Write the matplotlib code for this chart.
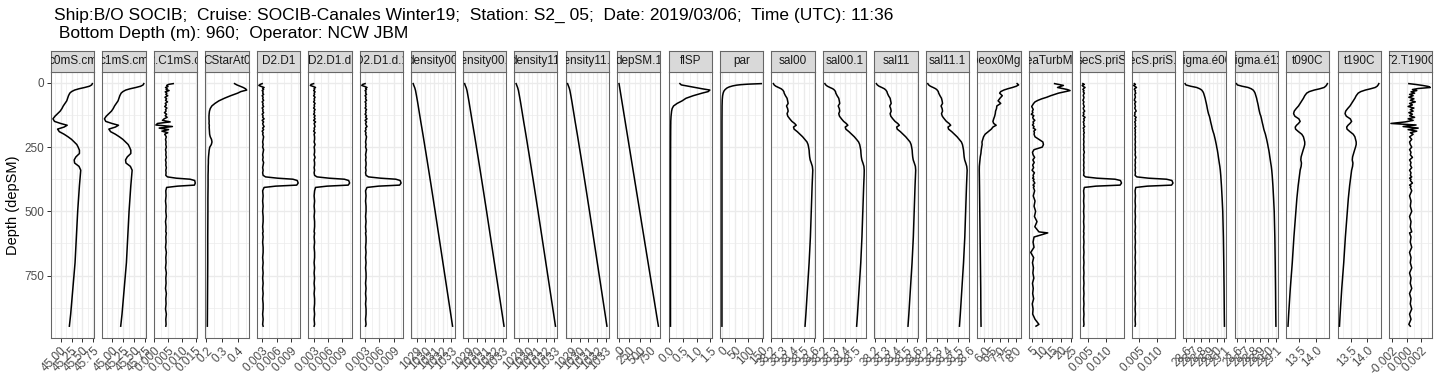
import matplotlib
matplotlib.use("Agg")
import matplotlib.pyplot as plt
from matplotlib.ticker import NullFormatter

plt.rcParams['font.family'] = ['Liberation Sans', 'DejaVu Sans']

title_line1 = "Ship:B/O SOCIB;  Cruise: SOCIB-Canales Winter19;  Station: S2_ 05;  Date: 2019/03/06;  Time (UTC): 11:36"
title_line2 = " Bottom Depth (m): 960;  Operator: NCW JBM"
y_label = "Depth (depSM)"
y_ticks = [0, 250, 500, 750]

# ---------------- depth grids ----------------
depth_g = [3, 6, 10, 14, 18, 22, 26, 30, 35, 40,
           45, 50, 56, 62, 68, 74, 80, 86, 92, 98,
           104, 110, 116, 122, 128, 134, 140, 146, 152, 158,
           164, 170, 176, 182, 188, 194, 200, 210, 220, 230,
           240, 250, 260, 270, 280, 290, 300, 310, 320, 330,
           340, 350, 360, 366, 371, 375, 380, 390, 398, 402,
           407, 420, 440, 460, 480, 500, 520, 540, 560, 580,
           584, 600, 620, 640, 660, 680, 700, 720, 740, 760,
           780, 800, 820, 840, 860, 880, 900, 920, 940, 947]

depth_s = [3, 8, 13, 18, 23, 28, 34, 40, 50, 60, 70, 80, 90, 100, 110, 120,
           130, 140, 150, 158, 165, 172, 180, 190, 200, 210, 220, 230, 240,
           250, 262, 275, 288, 300, 312, 325, 340, 360, 400, 450, 500, 600,
           700, 800, 900, 947]

depth_d = [3, 10, 20, 30, 50, 75, 100, 150, 200, 300, 400, 500, 600, 700, 800, 900, 947]

depth_p = [3, 4, 5, 7, 9, 12, 16, 20, 26, 32, 40, 50, 65, 90, 150, 947]

# ---------------- series ----------------
c0mS_cm = [45.725, 45.71, 45.66, 45.55, 45.42, 45.32, 45.25, 45.21, 45.18, 45.16,
           45.14, 45.10, 45.06, 45.03, 44.99, 44.93, 44.87, 44.825, 44.86, 45.00,
           45.15, 45.08, 44.93, 44.97, 45.08, 45.17, 45.25, 45.31, 45.37, 45.40,
           45.43, 45.43, 45.35, 45.31, 45.32, 45.42, 45.46, 45.45, 45.43, 45.41,
           45.39, 45.36, 45.33, 45.28, 45.23, 45.20]

c1mS_cm = [45.72, 45.705, 45.65, 45.54, 45.41, 45.31, 45.245, 45.205, 45.175, 45.155,
           45.135, 45.095, 45.055, 45.025, 44.985, 44.925, 44.865, 44.825, 44.855, 44.995,
           45.145, 45.075, 44.925, 44.965, 45.075, 45.165, 45.245, 45.305, 45.365, 45.395,
           45.425, 45.425, 45.345, 45.305, 45.315, 45.415, 45.455, 45.445, 45.425, 45.405,
           45.385, 45.355, 45.325, 45.275, 45.225, 45.195]

C2_C1mS_cm = [0.0069, 0.0052, 0.0045, 0.0050, 0.0041, 0.0047, 0.0043, 0.0054, 0.0040, 0.0046,
              0.0042, 0.0049, 0.0039, 0.0045, 0.0041, 0.0048, 0.0040, 0.0044, 0.0038, 0.0046,
              0.0041, 0.0043, 0.0037, 0.0045, 0.0040, 0.0047, 0.0036, 0.0030, 0.0058, 0.0012,
              0.0006, 0.0066, 0.0018, 0.0052, 0.0028, 0.0049, 0.0038, 0.0044, 0.0041, 0.0043,
              0.0042, 0.0044, 0.0041, 0.0043, 0.0042, 0.0044, 0.0041, 0.0043, 0.0042, 0.0044,
              0.0042, 0.0043, 0.0042, 0.0048, 0.0080, 0.0130, 0.0147, 0.0149, 0.0146, 0.0085,
              0.0045, 0.0042, 0.0043, 0.0041, 0.0043, 0.0042, 0.0044, 0.0041, 0.0043, 0.0042,
              0.0044, 0.0042, 0.0043, 0.0041, 0.0044, 0.0042, 0.0043, 0.0041, 0.0044, 0.0042,
              0.0043, 0.0041, 0.0044, 0.0042, 0.0043, 0.0041, 0.0044, 0.0042, 0.0043, 0.0042]

CStarAt0 = [0.380, 0.395, 0.415, 0.435, 0.450, 0.4575, 0.420, 0.400, 0.355, 0.315,
            0.280, 0.255, 0.235, 0.225, 0.220, 0.218, 0.217, 0.217, 0.218, 0.217,
            0.219, 0.218, 0.219, 0.220, 0.221, 0.225, 0.233, 0.236, 0.232, 0.222,
            0.218, 0.216, 0.214, 0.213, 0.213, 0.212, 0.212, 0.211, 0.211, 0.210,
            0.210, 0.209, 0.209, 0.208, 0.207, 0.2065]

D2_D1 = [0.0030, 0.0026, 0.0023, 0.0028, 0.0034, 0.0031, 0.0033, 0.0030, 0.0032, 0.0031,
         0.0033, 0.0030, 0.0032, 0.0031, 0.0033, 0.0030, 0.0032, 0.0031, 0.0033, 0.0030,
         0.0032, 0.0031, 0.0033, 0.0030, 0.0032, 0.0031, 0.0034, 0.0030, 0.0033, 0.0031,
         0.0032, 0.0034, 0.0031, 0.0033, 0.0030, 0.0032, 0.0031, 0.0033, 0.0032, 0.0031,
         0.0032, 0.0031, 0.0033, 0.0032, 0.0031, 0.0032, 0.0031, 0.0033, 0.0032, 0.0031,
         0.0032, 0.0031, 0.0032, 0.0037, 0.0062, 0.0094, 0.0103, 0.0105, 0.0102, 0.0058,
         0.0034, 0.0031, 0.0032, 0.0031, 0.0032, 0.0031, 0.0032, 0.0032, 0.0031, 0.0032,
         0.0031, 0.0032, 0.0031, 0.0032, 0.0032, 0.0031, 0.0032, 0.0031, 0.0032, 0.0031,
         0.0032, 0.0031, 0.0032, 0.0031, 0.0032, 0.0032, 0.0031, 0.0032, 0.0031, 0.0032]

D2_D1_d = [0.0030, 0.0025, 0.0023, 0.0029, 0.0034, 0.0031, 0.0032, 0.0030, 0.0033, 0.0031,
           0.0032, 0.0030, 0.0033, 0.0031, 0.0032, 0.0030, 0.0033, 0.0031, 0.0032, 0.0030,
           0.0033, 0.0031, 0.0032, 0.0030, 0.0033, 0.0031, 0.0033, 0.0030, 0.0034, 0.0031,
           0.0032, 0.0033, 0.0031, 0.0032, 0.0030, 0.0033, 0.0031, 0.0032, 0.0032, 0.0031,
           0.0033, 0.0031, 0.0032, 0.0032, 0.0031, 0.0033, 0.0031, 0.0032, 0.0032, 0.0031,
           0.0032, 0.0031, 0.0032, 0.0037, 0.0062, 0.0094, 0.0103, 0.0105, 0.0102, 0.0058,
           0.0034, 0.0032, 0.0031, 0.0032, 0.0031, 0.0032, 0.0031, 0.0032, 0.0032, 0.0031,
           0.0032, 0.0031, 0.0032, 0.0031, 0.0032, 0.0032, 0.0031, 0.0032, 0.0031, 0.0032,
           0.0031, 0.0032, 0.0031, 0.0032, 0.0032, 0.0031, 0.0032, 0.0031, 0.0032, 0.0031]

D2_D1_d_1 = [0.0030, 0.0025, 0.0023, 0.0029, 0.0034, 0.0031, 0.0033, 0.0030, 0.0032, 0.0031,
             0.0033, 0.0030, 0.0032, 0.0031, 0.0033, 0.0030, 0.0032, 0.0031, 0.0032, 0.0030,
             0.0033, 0.0031, 0.0032, 0.0030, 0.0033, 0.0031, 0.0034, 0.0030, 0.0033, 0.0031,
             0.0032, 0.0034, 0.0031, 0.0032, 0.0030, 0.0032, 0.0031, 0.0033, 0.0032, 0.0031,
             0.0032, 0.0031, 0.0033, 0.0032, 0.0031, 0.0032, 0.0031, 0.0032, 0.0032, 0.0031,
             0.0032, 0.0031, 0.0032, 0.0037, 0.0062, 0.0094, 0.0103, 0.0105, 0.0102, 0.0058,
             0.0034, 0.0031, 0.0032, 0.0031, 0.0032, 0.0032, 0.0031, 0.0032, 0.0031, 0.0032,
             0.0031, 0.0032, 0.0032, 0.0031, 0.0032, 0.0031, 0.0032, 0.0031, 0.0032, 0.0032,
             0.0031, 0.0032, 0.0031, 0.0032, 0.0031, 0.0032, 0.0032, 0.0031, 0.0032, 0.0031]

density00 = [1028.61, 1028.68, 1028.80, 1028.88, 1028.99, 1029.12, 1029.24, 1029.48, 1029.73,
             1030.21, 1030.68, 1031.14, 1031.59, 1032.04, 1032.49, 1032.94, 1033.15]
density00_1 = [1028.61, 1028.68, 1028.80, 1028.88, 1028.99, 1029.12, 1029.24, 1029.48, 1029.73,
               1030.21, 1030.68, 1031.14, 1031.59, 1032.04, 1032.49, 1032.94, 1033.15]
density11 = [1028.61, 1028.69, 1028.80, 1028.88, 1028.99, 1029.12, 1029.24, 1029.48, 1029.73,
             1030.21, 1030.68, 1031.14, 1031.59, 1032.04, 1032.49, 1032.94, 1033.15]
density11_1 = [1028.61, 1028.69, 1028.80, 1028.88, 1028.99, 1029.12, 1029.24, 1029.48, 1029.73,
               1030.21, 1030.68, 1031.14, 1031.59, 1032.04, 1032.49, 1032.94, 1033.15]

depSM_1 = [3, 10, 20, 30, 50, 75, 100, 150, 200, 300, 400, 500, 600, 700, 800, 900, 947]

flSP = [0.40, 0.45, 0.70, 0.95, 1.20, 1.48, 1.42, 1.20, 0.88, 0.62,
        0.48, 0.30, 0.17, 0.12, 0.10, 0.09, 0.08, 0.075, 0.07, 0.07,
        0.068, 0.068, 0.067, 0.066, 0.066, 0.065, 0.065, 0.064, 0.064, 0.064,
        0.063, 0.063, 0.063, 0.062, 0.062, 0.062, 0.062, 0.061, 0.061, 0.061,
        0.060, 0.060, 0.060, 0.060, 0.060, 0.060]

par = [149, 125, 100, 72, 55, 40, 27, 19, 12, 7.5, 4.5, 2.5, 1.2, 0.4, 0.05, 0.0]

sal00 = [38.218, 38.225, 38.24, 38.265, 38.29, 38.305, 38.315, 38.318, 38.33, 38.345,
         38.35, 38.355, 38.34, 38.35, 38.355, 38.345, 38.352, 38.37, 38.39, 38.415,
         38.43, 38.405, 38.41, 38.44, 38.465, 38.49, 38.51, 38.53, 38.54, 38.545,
         38.55, 38.552, 38.555, 38.56, 38.57, 38.58, 38.584, 38.582, 38.578, 38.574,
         38.57, 38.562, 38.55, 38.535, 38.52, 38.512]
sal00_1 = [38.215, 38.223, 38.238, 38.262, 38.288, 38.303, 38.313, 38.316, 38.328, 38.343,
           38.348, 38.352, 38.338, 38.348, 38.352, 38.343, 38.35, 38.368, 38.388, 38.412,
           38.427, 38.403, 38.408, 38.437, 38.462, 38.487, 38.507, 38.526, 38.536, 38.541,
           38.546, 38.548, 38.551, 38.556, 38.566, 38.575, 38.578, 38.577, 38.573, 38.569,
           38.565, 38.557, 38.546, 38.531, 38.516, 38.508]
sal11 = [38.217, 38.226, 38.242, 38.268, 38.292, 38.306, 38.316, 38.32, 38.331, 38.346,
         38.351, 38.356, 38.342, 38.351, 38.356, 38.346, 38.353, 38.371, 38.392, 38.417,
         38.432, 38.407, 38.412, 38.442, 38.467, 38.492, 38.512, 38.532, 38.542, 38.547,
         38.552, 38.554, 38.557, 38.562, 38.572, 38.582, 38.585, 38.583, 38.579, 38.575,
         38.571, 38.563, 38.551, 38.536, 38.521, 38.513]
sal11_1 = [38.216, 38.224, 38.240, 38.266, 38.290, 38.304, 38.314, 38.318, 38.330, 38.344,
           38.350, 38.354, 38.340, 38.350, 38.354, 38.344, 38.352, 38.370, 38.390, 38.415,
           38.430, 38.405, 38.410, 38.440, 38.465, 38.490, 38.510, 38.530, 38.540, 38.545,
           38.550, 38.553, 38.556, 38.561, 38.571, 38.580, 38.584, 38.582, 38.578, 38.574,
           38.570, 38.562, 38.550, 38.535, 38.520, 38.512]

sbeox0Mg_L = [8.10, 8.195, 8.05, 7.80, 7.50, 7.25, 7.05, 6.98, 7.15, 7.00,
              6.88, 7.05, 6.80, 6.78, 6.72, 6.70, 6.66, 6.60, 6.55, 6.60,
              6.76, 6.55, 6.45, 6.25, 6.05, 5.95, 5.90, 5.85, 5.86, 5.83,
              5.80, 5.78, 5.74, 5.72, 5.70, 5.68, 5.675, 5.68, 5.69, 5.70,
              5.71, 5.73, 5.75, 5.77, 5.78, 5.79]

seaTurbMtr = [16.5, 18.5, 21.0, 19.5, 18.0, 20.5, 23.0, 24.4, 21.5, 18.5,
              16.5, 14.5, 12.5, 10.0, 8.0, 6.5, 5.8, 5.3, 4.8, 5.2,
              5.6, 5.1, 5.4, 4.6, 5.9, 5.3, 5.6, 6.4, 5.5, 5.8,
              5.2, 6.0, 5.6, 6.8, 5.9, 6.2, 6.0, 6.5, 8.5, 10.5,
              10.8, 10.2, 6.0, 5.2, 5.5, 6.3, 5.4, 6.1, 5.3, 5.8,
              5.0, 6.2, 5.5, 5.8, 5.3, 6.0, 5.6, 6.4, 5.5, 6.1,
              5.7, 6.3, 5.6, 6.5, 6.0, 6.8, 6.2, 7.5, 6.4, 8.5,
              13.0, 6.0, 5.5, 6.0, 4.3, 5.8, 5.2, 5.7, 5.4, 5.9,
              5.2, 5.6, 5.3, 5.8, 5.1, 5.5, 5.3, 6.5, 8.5, 7.0]

secS_priS = [0.0036, 0.0040, 0.0034, 0.0037, 0.0042, 0.0038, 0.0036, 0.0039, 0.0037, 0.0040,
             0.0038, 0.0037, 0.0039, 0.0038, 0.0036, 0.0039, 0.0037, 0.0038, 0.0040, 0.0037,
             0.0038, 0.0041, 0.0037, 0.0039, 0.0036, 0.0042, 0.0038, 0.0040, 0.0037, 0.0039,
             0.0038, 0.0041, 0.0037, 0.0039, 0.0038, 0.0040, 0.0038, 0.0039, 0.0038, 0.0039,
             0.0038, 0.0039, 0.0038, 0.0040, 0.0038, 0.0039, 0.0038, 0.0039, 0.0038, 0.0039,
             0.0038, 0.0039, 0.0038, 0.0043, 0.0075, 0.0125, 0.0140, 0.0143, 0.0139, 0.0072,
             0.0040, 0.0038, 0.0039, 0.0038, 0.0039, 0.0038, 0.0039, 0.0038, 0.0039, 0.0038,
             0.0039, 0.0038, 0.0039, 0.0038, 0.0039, 0.0038, 0.0039, 0.0038, 0.0039, 0.0038,
             0.0039, 0.0038, 0.0039, 0.0038, 0.0039, 0.0038, 0.0039, 0.0038, 0.0039, 0.0038]

secS_priS_1 = [0.0036, 0.0039, 0.0034, 0.0038, 0.0042, 0.0037, 0.0036, 0.0039, 0.0038, 0.0040,
               0.0037, 0.0038, 0.0039, 0.0037, 0.0036, 0.0040, 0.0037, 0.0038, 0.0039, 0.0037,
               0.0039, 0.0041, 0.0037, 0.0038, 0.0036, 0.0041, 0.0038, 0.0040, 0.0037, 0.0039,
               0.0038, 0.0040, 0.0037, 0.0039, 0.0038, 0.0039, 0.0038, 0.0039, 0.0038, 0.0039,
               0.0038, 0.0039, 0.0038, 0.0039, 0.0038, 0.0040, 0.0038, 0.0039, 0.0038, 0.0039,
               0.0038, 0.0039, 0.0038, 0.0043, 0.0075, 0.0125, 0.0140, 0.0143, 0.0139, 0.0072,
               0.0040, 0.0038, 0.0039, 0.0038, 0.0039, 0.0038, 0.0039, 0.0038, 0.0039, 0.0038,
               0.0039, 0.0038, 0.0039, 0.0038, 0.0039, 0.0038, 0.0039, 0.0038, 0.0039, 0.0038,
               0.0039, 0.0038, 0.0039, 0.0038, 0.0039, 0.0038, 0.0039, 0.0038, 0.0039, 0.0038]

sigma_e00 = [28.59, 28.60, 28.66, 28.74, 28.78, 28.805, 28.82, 28.83, 28.84, 28.85,
             28.857, 28.865, 28.872, 28.878, 28.885, 28.893, 28.905, 28.913, 28.92, 28.926,
             28.932, 28.937, 28.943, 28.953, 28.964, 28.972, 28.98, 28.987, 28.994, 29.0,
             29.008, 29.015, 29.021, 29.027, 29.033, 29.04, 29.046, 29.052, 29.061, 29.07,
             29.078, 29.086, 29.091, 29.095, 29.098, 29.10]
sigma_e11 = [28.59, 28.60, 28.66, 28.74, 28.78, 28.805, 28.82, 28.83, 28.84, 28.85,
             28.857, 28.865, 28.872, 28.878, 28.885, 28.893, 28.905, 28.913, 28.92, 28.926,
             28.932, 28.937, 28.943, 28.953, 28.964, 28.972, 28.98, 28.987, 28.994, 29.0,
             29.008, 29.015, 29.021, 29.027, 29.033, 29.04, 29.046, 29.052, 29.061, 29.07,
             29.078, 29.086, 29.091, 29.095, 29.098, 29.10]

t090C = [14.35, 14.33, 14.30, 14.25, 14.12, 13.95, 13.80, 13.72, 13.66, 13.62,
         13.57, 13.52, 13.47, 13.40, 13.34, 13.32, 13.36, 13.48, 13.52, 13.47,
         13.41, 13.37, 13.38, 13.47, 13.57, 13.62, 13.64, 13.66, 13.66, 13.64,
         13.61, 13.58, 13.55, 13.54, 13.56, 13.55, 13.52, 13.50, 13.46, 13.42,
         13.39, 13.33, 13.28, 13.22, 13.17, 13.15]
t190C = [14.35, 14.33, 14.30, 14.24, 14.10, 13.94, 13.80, 13.72, 13.66, 13.62,
         13.57, 13.52, 13.47, 13.40, 13.34, 13.32, 13.36, 13.48, 13.52, 13.47,
         13.41, 13.37, 13.38, 13.47, 13.57, 13.62, 13.64, 13.66, 13.66, 13.64,
         13.61, 13.58, 13.55, 13.54, 13.56, 13.55, 13.52, 13.50, 13.46, 13.42,
         13.39, 13.33, 13.28, 13.22, 13.17, 13.15]

T2_T190C = [0.0003, 0.0012, 0.0022, 0.0030, 0.00328, 0.0016, 0.0008, 0.0014, 0.0006, 0.0011,
            0.0004, 0.0009, 0.0003, 0.0010, 0.0005, 0.0012, 0.0004, 0.0008, 0.0002, 0.0010,
            0.0005, 0.0009, 0.0003, 0.0008, 0.0004, 0.0011, 0.0002, 0.0009, -0.0002, -0.00219,
            0.0013, -0.0005, 0.0016, 0.0002, 0.0014, 0.0005, 0.0009, 0.0004, 0.0007, 0.0004,
            0.0005, 0.0007, 0.0004, 0.0006, 0.0005, 0.0008, 0.0004, 0.0006, 0.0005, 0.0007,
            0.0004, 0.0006, 0.0005, 0.0007, 0.0004, 0.0006, 0.0005, 0.0008, 0.0004, 0.0006,
            0.0005, 0.0007, 0.0004, 0.0006, 0.0005, 0.0007, 0.0004, 0.0006, 0.0005, 0.0007,
            0.0004, 0.0006, 0.0005, 0.0007, 0.0004, 0.0006, 0.0005, 0.0007, 0.0004, 0.0006,
            0.0005, 0.0007, 0.0004, 0.0006, 0.0005, 0.0007, 0.0004, 0.0006, 0.0003, 0.0005]

# ---------------- tick labels per panel ----------------
ticks_cond = ["45.00", "45.25", "45.50", "45.75"]
ticks_c2c1 = ["0.000", "0.005", "0.010", "0.015"]
ticks_cstar = ["0.2", "0.3", "0.4"]
ticks_d2d1 = ["0.003", "0.006", "0.009"]
ticks_dens = ["1029", "1030", "1031", "1032", "1033"]
ticks_dep = ["0", "250", "500", "750"]
ticks_fl = ["0.0", "0.5", "1.0", "1.5"]
ticks_par = ["0", "50", "100", "150"]
ticks_sal = ["38.2", "38.3", "38.4", "38.5", "38.6"]
ticks_oxy = ["6.0", "6.5", "7.0", "7.5", "8.0"]
ticks_turb = ["5", "10", "15", "20", "25"]
ticks_secs = ["0.005", "0.010"]
ticks_sigma = ["28.6", "28.7", "28.8", "28.9", "29.0", "29.1"]
ticks_temp = ["13.5", "14.0"]
ticks_t2t1 = ["-0.002", "0.000", "0.002"]

panels = [
    ("c0mS.cm", depth_s, c0mS_cm, ticks_cond),
    ("c1mS.cm", depth_s, c1mS_cm, ticks_cond),
    ("C2.C1mS.cm", depth_g, C2_C1mS_cm, ticks_c2c1),
    ("CStarAt0", depth_s, CStarAt0, ticks_cstar),
    ("D2.D1", depth_g, D2_D1, ticks_d2d1),
    ("D2.D1.d", depth_g, D2_D1_d, ticks_d2d1),
    ("D2.D1.d.1", depth_g, D2_D1_d_1, ticks_d2d1),
    ("density00", depth_d, density00, ticks_dens),
    ("density00.1", depth_d, density00_1, ticks_dens),
    ("density11", depth_d, density11, ticks_dens),
    ("density11.1", depth_d, density11_1, ticks_dens),
    ("depSM.1", depth_d, depSM_1, ticks_dep),
    ("flSP", depth_s, flSP, ticks_fl),
    ("par", depth_p, par, ticks_par),
    ("sal00", depth_s, sal00, ticks_sal),
    ("sal00.1", depth_s, sal00_1, ticks_sal),
    ("sal11", depth_s, sal11, ticks_sal),
    ("sal11.1", depth_s, sal11_1, ticks_sal),
    ("sbeox0Mg.L", depth_s, sbeox0Mg_L, ticks_oxy),
    ("seaTurbMtr", depth_g, seaTurbMtr, ticks_turb),
    ("secS.priS", depth_g, secS_priS, ticks_secs),
    ("secS.priS.1", depth_g, secS_priS_1, ticks_secs),
    ("sigma.é00", depth_s, sigma_e00, ticks_sigma),
    ("sigma.é11", depth_s, sigma_e11, ticks_sigma),
    ("t090C", depth_s, t090C, ticks_temp),
    ("t190C", depth_s, t190C, ticks_temp),
    ("T2.T190C", depth_g, T2_T190C, ticks_t2t1),
]

# ---------------- layout (pixels) ----------------
W, H = 1440, 384
fig = plt.figure(figsize=(W / 96, H / 96), dpi=96)
fig.patch.set_facecolor('white')

x0, step, pw = 51.0, 51.46, 43.3
p_top, p_bot, s_top = 71.5, 338.3, 50.7

all_depths = depth_g + depth_s + depth_d + depth_p
dmin, dmax = min(all_depths), max(all_depths)
dpad = 0.05 * (dmax - dmin)
ylim = (dmax + dpad, dmin - dpad)

border = '#666666'
grid_c = '#EBEBEB'


def minor_between(ticks, lo, hi):
    if len(ticks) < 2:
        return []
    st = ticks[1] - ticks[0]
    cand = [ticks[0] - st / 2] + [t + st / 2 for t in ticks]
    return [c for c in cand if lo <= c <= hi]


for i, (name, dep, vals, tlabels) in enumerate(panels):
    left = x0 + i * step
    ax = fig.add_axes([left / W, 1 - p_bot / H, pw / W, (p_bot - p_top) / H])
    ax.set_facecolor('white')
    ax.plot(vals, dep, color='black', lw=1.15, solid_joinstyle='round', zorder=3)

    vmin, vmax = min(vals), max(vals)
    pad = 0.05 * (vmax - vmin)
    lo, hi = vmin - pad, vmax + pad
    ax.set_xlim(lo, hi)
    ax.set_ylim(*ylim)

    tpos = [float(t) for t in tlabels]
    keep = [(p, l) for p, l in zip(tpos, tlabels) if lo <= p <= hi]
    ax.set_xticks([p for p, _ in keep])
    ax.set_xticklabels([l for _, l in keep], rotation=45, ha='right', va='top',
                       rotation_mode='anchor', fontsize=8.8, color='#4D4D4D')
    ax.set_xticks(minor_between(tpos, lo, hi), minor=True)
    ax.xaxis.set_minor_formatter(NullFormatter())
    ax.set_yticks(y_ticks)
    ax.set_yticks([125, 375, 625, 875], minor=True)
    ax.yaxis.set_minor_formatter(NullFormatter())
    ax.xaxis.get_offset_text().set_visible(False)
    ax.yaxis.get_offset_text().set_visible(False)

    ax.grid(which='major', color=grid_c, lw=1.0, zorder=0)
    ax.grid(which='minor', color=grid_c, lw=0.5, zorder=0)
    ax.set_axisbelow(True)
    ax.tick_params(which='minor', length=0)
    ax.tick_params(axis='x', which='major', length=2.8, width=0.75,
                   color='#333333', pad=2)
    if i == 0:
        ax.set_yticklabels([str(v) for v in y_ticks], fontsize=8.8, color='#4D4D4D')
        ax.tick_params(axis='y', which='major', length=2.8, width=0.75,
                       color='#333333', pad=2)
    else:
        ax.tick_params(axis='y', which='major', length=0, labelleft=False)
    for sp in ax.spines.values():
        sp.set_color(border)
        sp.set_linewidth(0.8)

    # facet strip with the variable name, clipped to the strip like ggplot
    sax = fig.add_axes([left / W, 1 - p_top / H, pw / W, (p_top - s_top) / H])
    sax.set_facecolor('#D9D9D9')
    sax.set_xticks([])
    sax.set_yticks([])
    for sp in sax.spines.values():
        sp.set_color(border)
        sp.set_linewidth(0.8)
    sax.text(0.5, 0.5, name, transform=sax.transAxes, ha='center', va='center',
             fontsize=8.8, color='#1A1A1A', clip_on=True)

fig.text(53.5 / W, 1 - 19.5 / H, title_line1, fontsize=13, ha='left', va='baseline', color='black')
fig.text(53.5 / W, 1 - 38.0 / H, title_line2, fontsize=13, ha='left', va='baseline', color='black')
fig.text(13 / W, 1 - ((p_top + p_bot) / 2) / H, y_label, rotation=90, ha='center',
         va='center', fontsize=11, color='black')

fig.savefig('out.png', dpi=96, facecolor='white')
